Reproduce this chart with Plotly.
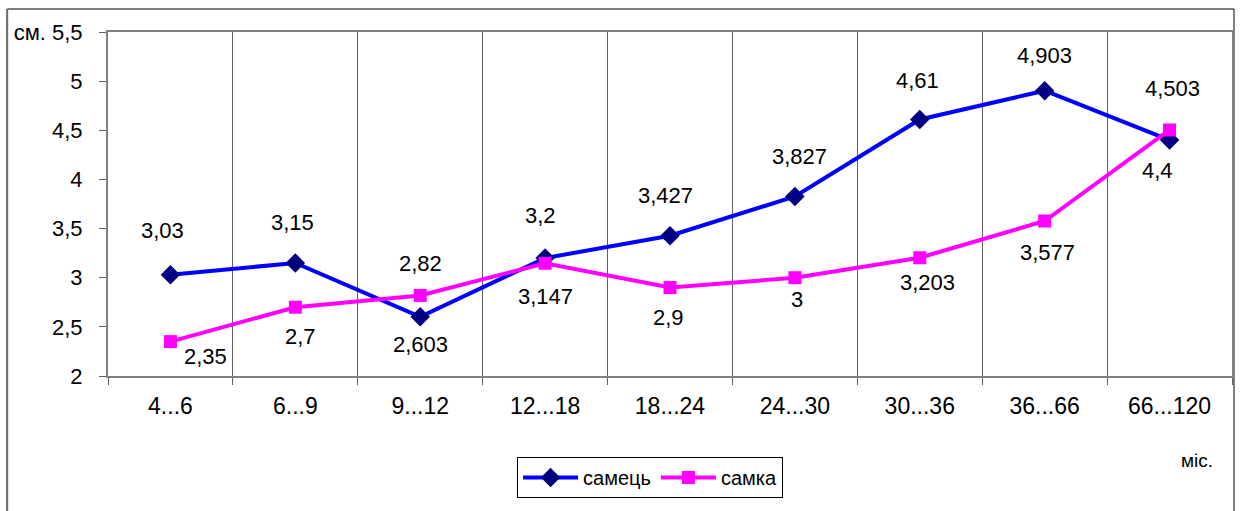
import plotly.graph_objects as go

# Age groups (months) and mean values for each sex
categories = ["4...6", "6...9", "9...12", "12...18", "18...24", "24...30", "30...36", "36...66", "66...120"]
male_values = [3.03, 3.15, 2.603, 3.2, 3.427, 3.827, 4.61, 4.903, 4.4]
female_values = [2.35, 2.7, 2.82, 3.147, 2.9, 3.0, 3.203, 3.577, 4.503]
y_tick_values = [2, 2.5, 3, 3.5, 4, 4.5, 5, 5.5]
y_tick_labels = ["2", "2,5", "3", "3,5", "4", "4,5", "5", "см. 5,5"]

# Pixel offsets for the value labels (dx, dy)
male_label_offsets = [(-8, 44), (-3, 40), (0, -28), (-5, 43), (-5, 40), (5, 40), (-2, 39), (0, 35), (-12, -30)]
female_label_offsets = [(35, -15), (5, -29), (0, 32), (0, -33), (-2, -30), (2, -22), (8, -25), (3, -31), (3, 41)]

FONT = "Liberation Sans, Arial, sans-serif"


def fmt(v):
    return f"{v:g}".replace(".", ",")


fig = go.Figure()
fig.add_trace(go.Scatter(
    x=categories, y=male_values, name="самець", mode="lines+markers",
    line=dict(color="#0000FF", width=4),
    marker=dict(symbol="diamond", size=15, color="#000080"),
))
fig.add_trace(go.Scatter(
    x=categories, y=female_values, name="самка", mode="lines+markers",
    line=dict(color="#FF00FF", width=4),
    marker=dict(symbol="square", size=13, color="#FF00FF"),
))

annotations = []
for vals, offs in ((male_values, male_label_offsets), (female_values, female_label_offsets)):
    for cat, v, (dx, dy) in zip(categories, vals, offs):
        annotations.append(dict(
            x=cat, y=v, text=fmt(v), showarrow=False,
            xshift=dx, yshift=dy, font=dict(family=FONT, size=22, color="#000000"),
        ))
annotations.append(dict(
    xref="paper", yref="paper", x=(1199 - 108) / 1126, y=(376 - 460) / 344,
    xanchor="center", yanchor="middle",
    text="міс.", showarrow=False, font=dict(family=FONT, size=19, color="#000000"),
))

shapes = [
    # outer chart frame
    dict(type="rect", xref="paper", yref="paper",
         x0=(7 - 108) / 1126, x1=(1236 - 108) / 1126,
         y0=(376 - 530) / 344, y1=(376 - 9) / 344,
         line=dict(color="#000000", width=1), layer="below"),
    dict(type="line", xref="paper", yref="paper",
         x0=(7 - 108) / 1126, x1=(7 - 108) / 1126,
         y0=(376 - 530) / 344, y1=(376 - 9) / 344,
         line=dict(color="#707070", width=2)),
]

fig.update_layout(
    width=1240, height=511,
    margin=dict(l=108, r=6, t=32, b=135),
    paper_bgcolor="white", plot_bgcolor="white",
    font=dict(family=FONT, size=21, color="#000000"),
    showlegend=True,
    legend=dict(
        orientation="h", x=(651 - 108) / 1126, xanchor="center",
        y=(376 - 457) / 344, yanchor="top",
        bordercolor="#000000", borderwidth=1, bgcolor="white",
        font=dict(family=FONT, size=20), itemwidth=55,
    ),
    annotations=annotations,
    shapes=shapes,
)
fig.update_xaxes(
    type="category", range=[-0.5, 8.5],
    showline=True, linecolor="#808080", linewidth=2, mirror=True,
    showgrid=True, gridcolor="#606060", gridwidth=1, tickson="boundaries",
    ticks="outside", ticklen=7, tickcolor="#606060", tickwidth=1,
    tickfont=dict(family=FONT, size=23), zeroline=False, ticklabelstandoff=8,
)
fig.update_yaxes(
    range=[2, 5.5], tickvals=y_tick_values, ticktext=y_tick_labels,
    showline=True, linecolor="#808080", linewidth=2, mirror=True,
    showgrid=False, zeroline=False,
    ticks="outside", ticklen=7, tickcolor="#606060", tickwidth=1,
    tickfont=dict(family=FONT, size=22), ticklabelstandoff=12,
)

fig.write_html("out.html")
